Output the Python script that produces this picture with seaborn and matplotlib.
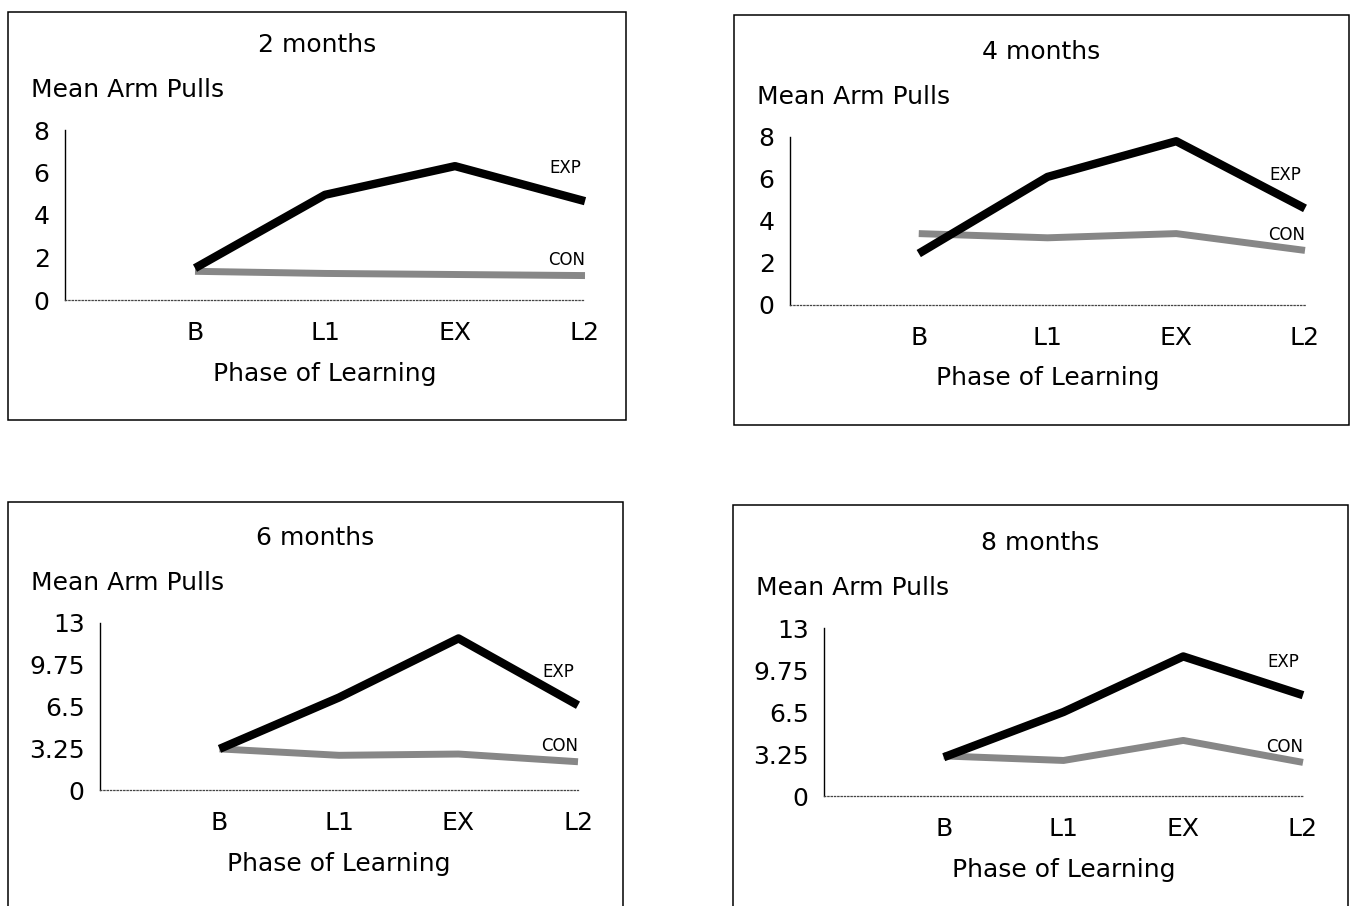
import numpy as np
import pandas as pd
import matplotlib
matplotlib.use("Agg")
import matplotlib.pyplot as plt
from matplotlib.patches import Rectangle
import seaborn as sns

# data
phases = ["B", "L1", "EX", "L2"]
titles = ["2 months", "4 months", "6 months", "8 months"]
groups = ["EXP", "CON"]

exp_2m = [1.5, 4.95, 6.3, 4.65]
con_2m = [1.35, 1.25, 1.2, 1.15]
exp_4m = [2.45, 6.1, 7.8, 4.6]
con_4m = [3.4, 3.2, 3.4, 2.6]
exp_6m = [3.2, 7.2, 11.8, 6.6]
con_6m = [3.2, 2.7, 2.8, 2.2]
exp_8m = [3.0, 6.5, 10.8, 7.8]
con_8m = [3.1, 2.75, 4.3, 2.6]

yticks_small = [0, 2, 4, 6, 8]
yticks_large = [0, 3.25, 6.5, 9.75, 13]
ylabels_small = ["0", "2", "4", "6", "8"]
ylabels_large = ["0", "3.25", "6.5", "9.75", "13"]

series = {
    "2 months": (exp_2m, con_2m),
    "4 months": (exp_4m, con_4m),
    "6 months": (exp_6m, con_6m),
    "8 months": (exp_8m, con_8m),
}
rows = []
for t in titles:
    for g, vals in zip(groups, series[t]):
        for i, (p, v) in enumerate(zip(phases, vals)):
            rows.append({"panel": t, "group": g, "phase": p, "pos": i + 1, "value": v})
df = pd.DataFrame(rows)

sns.set_style("white")
plt.rcParams["font.family"] = ["DejaVu Sans"]
plt.rcParams["text.color"] = "black"
plt.rcParams["xtick.color"] = "black"
plt.rcParams["ytick.color"] = "black"
plt.rcParams["axes.labelcolor"] = "black"

W, H = 1355, 906
fig = plt.figure(figsize=(W / 100, H / 100), dpi=100)

# layout in pixels (top-down): panel boxes and axes (left, right, y of zero, y of top)
boxes = [(8, 12, 626, 420), (734, 15, 1349, 425), (8, 502, 623, 918), (733, 505, 1348, 918)]
axes_px = [(65, 585, 300, 130), (790, 1305, 305, 137), (100, 578, 790, 623), (824, 1303, 796, 628)]

line_style = {"EXP": dict(color="black", linewidth=6.0),
              "CON": dict(color="#878787", linewidth=5.0)}
label_off = {"EXP": (-14, 24), "CON": (-13, 11)}

for k, t in enumerate(titles):
    bx0, by0, bx1, by1 = boxes[k]
    fig.patches.append(Rectangle((bx0 / W, 1 - by1 / H), (bx1 - bx0) / W, (by1 - by0) / H,
                                 transform=fig.transFigure, fill=False, edgecolor="black",
                                 linewidth=1.1))
    l, r, y0, y1 = axes_px[k]
    ax = fig.add_axes([l / W, 1 - y0 / H, (r - l) / W, (y0 - y1) / H])
    sub = df[df.panel == t]
    for g in ["CON", "EXP"]:
        d = sub[sub.group == g]
        sns.lineplot(data=d, x="pos", y="value", ax=ax, sort=False, clip_on=False,
                     solid_capstyle="butt", solid_joinstyle="round", **line_style[g])
        last = d["value"].iloc[-1]
        ax.annotate(g, xy=(4, last), xytext=label_off[g], textcoords="offset points",
                    ha="center", va="center", fontsize=12)

    big = k >= 2
    ax.set_xlim(0, 4)
    ax.set_ylim(0, 13 if big else 8)
    ax.set_yticks(yticks_large if big else yticks_small)
    ax.set_yticklabels(ylabels_large if big else ylabels_small, fontsize=18)
    ax.set_xticks([1, 2, 3, 4])
    ax.set_xticklabels(phases, fontsize=18)
    ax.tick_params(axis="both", length=0)
    ax.tick_params(axis="y", pad=11)
    ax.tick_params(axis="x", pad=15)
    ax.set_xlabel("Phase of Learning", fontsize=18, labelpad=12)
    ax.set_ylabel("")
    for s in ["top", "right"]:
        ax.spines[s].set_visible(False)
    ax.spines["left"].set_linewidth(1.0)
    ax.spines["left"].set_color("black")
    ax.spines["bottom"].set_linestyle(":")
    ax.spines["bottom"].set_linewidth(0.9)
    ax.spines["bottom"].set_color("#444444")
    ax.set_facecolor("none")

    fig.text((bx0 + bx1) / 2 / W, 1 - (y1 - 85) / H, t, ha="center", va="center", fontsize=18)
    fig.text((bx0 + 23) / W, 1 - (y1 - 40) / H, "Mean Arm Pulls", ha="left", va="center",
             fontsize=18)

fig.savefig("out.png", dpi=100)
